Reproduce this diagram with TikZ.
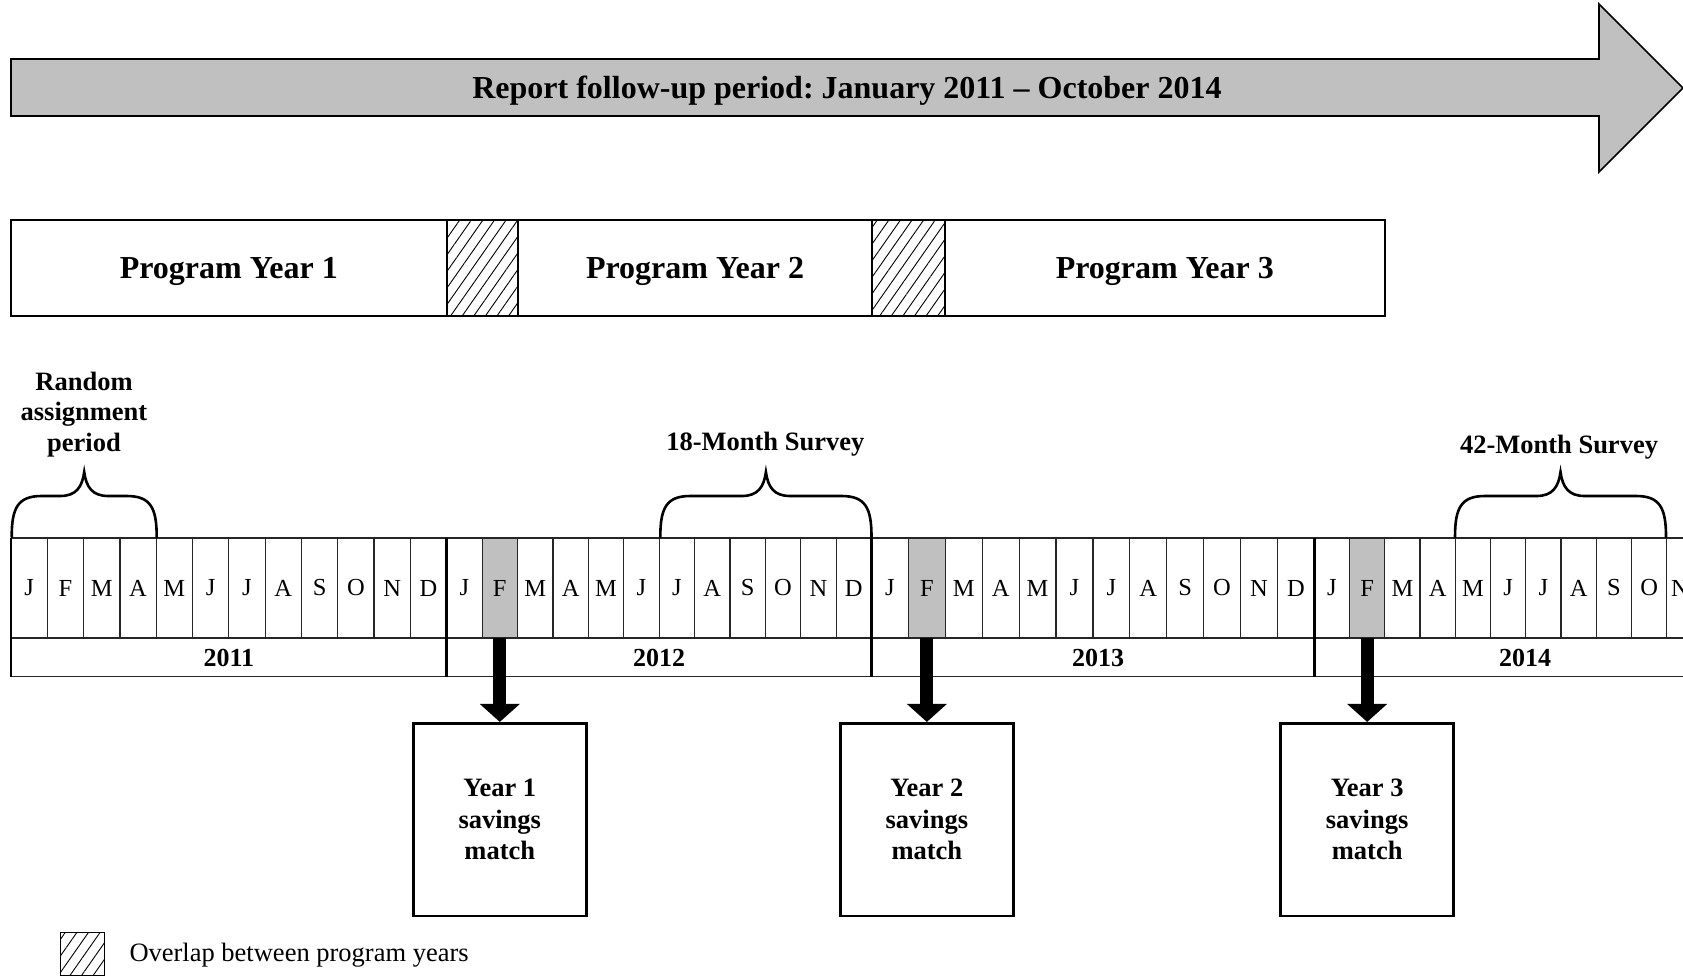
\documentclass[tikz,border=0pt]{standalone}
\usepackage{fontspec}
\setmainfont{Liberation Serif}
\usetikzlibrary{arrows.meta,patterns.meta}
\definecolor{shade}{HTML}{C0C0C0}
\frenchspacing
\newcommand\curlybrace[2]{%
  \pgfmathsetmacro\ba{#1}\pgfmathsetmacro\bb{#2}\pgfmathsetmacro\bm{(#1+#2)/2}%
  \draw[bracestyle] (\ba,537) .. controls (\ba,508) and ({\ba+6},496) .. ({\ba+30},496)
    -- ({\bm-24},496) .. controls ({\bm-8},496) and ({\bm-2},487) .. (\bm,472)
    .. controls ({\bm+2},487) and ({\bm+8},496) .. ({\bm+24},496)
    -- ({\bb-30},496) .. controls ({\bb-6},496) and (\bb,508) .. (\bb,537);}
\begin{document}
\begin{tikzpicture}[x=1pt,y=-1pt,
  bigtext/.style={font=\fontsize{32}{38}\selectfont\bfseries, inner sep=0pt},
  lab/.style={font=\fontsize{26.5}{30.5}\selectfont\bfseries, align=center, inner sep=0pt},
  yearlbl/.style={font=\fontsize{26}{30}\selectfont\bfseries, inner sep=0pt},
  monthtxt/.style={font=\fontsize{24.5}{28}\selectfont, inner sep=0pt, minimum height=100pt},
  hatch/.style={pattern={Lines[angle=55,distance=9.5pt,line width=0.9pt]}},
  gridthin/.style={line width=1.2pt, draw=black!85},
  gridthick/.style={line width=2.6pt, draw=black},
  matchbox/.style={draw, line width=2.8pt, minimum width=173pt, minimum height=192.7pt,
    font=\fontsize{26.5}{31.6}\selectfont\bfseries, align=center},
  bracestyle/.style={line width=2.6pt, line cap=round},
  feed/.style={line width=13pt, -{Triangle[width=39pt,length=18pt]}},
]
\useasboundingbox (0,0) rectangle (1683,976);
\clip (0,0) rectangle (1683,976);

% follow-up period arrow
\draw[line width=1.6pt, fill=shade, line join=miter] (11,59) -- (1599,59) -- (1599,4) -- (1683,88)
  -- (1599,172) -- (1599,116) -- (11,116) -- cycle;
\node[bigtext] (title) at (847,91) {Report follow-up period: January 2011 – October 2014};

% program years bar
\draw[line width=2pt] (11,220) rectangle (1384.6,315.7);
\draw[line width=2pt, hatch] (446.7,220) rectangle (518.3,315.7);
\draw[line width=2pt, hatch] (871.5,220) rectangle (945,315.7);
\node[bigtext] (py1) at (228.8,271) {Program Year 1};
\node[bigtext] (py2) at (695,271) {Program Year 2};
\node[bigtext] (py3) at (1164.8,271) {Program Year 3};

% months
\foreach \yr/\s/\w/\n/\fc in {11/11/36.308/12/none, 12/446.7/35.4/12/shade, 13/871.5/36.9/12/shade, 14/1314.3/35.24/10/shade} {
  \foreach \l [count=\i] in {J,F,M,A,M,J,J,A,S,O,N,D} {
    \def\fillc{none}\ifnum\i=2 \edef\fillc{\fc}\fi
    \ifnum\i>\n\relax\else
      \node[monthtxt, minimum width=\w pt, fill=\fillc] (m\yr-\i) at ({\s+(\i-0.5)*\w},588) {\l};
    \fi
  }
}
\node[monthtxt, anchor=west] (m14-11) at (1671,588) {N};
\draw[gridthin] (11,538) -- (1683,538);
\draw[gridthin] (11,638) -- (1683,638);
\draw[gridthin] (11,676.5) -- (1683,676.5);
\foreach \s/\w in {11/36.308, 446.7/35.4, 871.5/36.9, 1314.3/35.24}
  \foreach \i in {1,...,11}
    \draw[gridthin] ({\s+\i*\w},538) -- ({\s+\i*\w},638);
\foreach \x in {11,446.7,871.5,1314.3}
  \draw[gridthick] (\x,538) -- (\x,676.5);

\node[yearlbl] (y11) at (228.8,657.5) {2011};
\node[yearlbl] (y12) at (659,657.5) {2012};
\node[yearlbl] (y13) at (1098,657.5) {2013};
\node[yearlbl] (y14) at (1525,657.5) {2014};

% braces and survey labels
\curlybrace{11.7}{156.7}
\curlybrace{660.3}{871.5}
\curlybrace{1455}{1666}
\node[lab] (ra) at (84,414.3) {Random\\assignment\\period};
\node[lab] (s18) at (765.3,443.8) {18-Month Survey};
\node[lab] (s42) at (1559,447) {42-Month Survey};

% savings match boxes
\coordinate (boxrow) at (0,819.7);
\node[matchbox] (box1) at (m12-2 |- boxrow) {Year 1\\savings\\match};
\node[matchbox] (box2) at (m13-2 |- boxrow) {Year 2\\savings\\match};
\node[matchbox] (box3) at (m14-2 |- boxrow) {Year 3\\savings\\match};
\draw[feed] (m12-2.south) -- (box1.north);
\draw[feed] (m13-2.south) -- (box2.north);
\draw[feed] (m14-2.south) -- (box3.north);

% legend
\draw[line width=1.3pt, hatch] (60.7,932.3) rectangle (104.7,975.3);
\node[anchor=west, inner sep=0pt, font=\fontsize{26.5}{30}\selectfont] (leg) at (129.3,955.5) {Overlap between program years};
\end{tikzpicture}
\end{document}
